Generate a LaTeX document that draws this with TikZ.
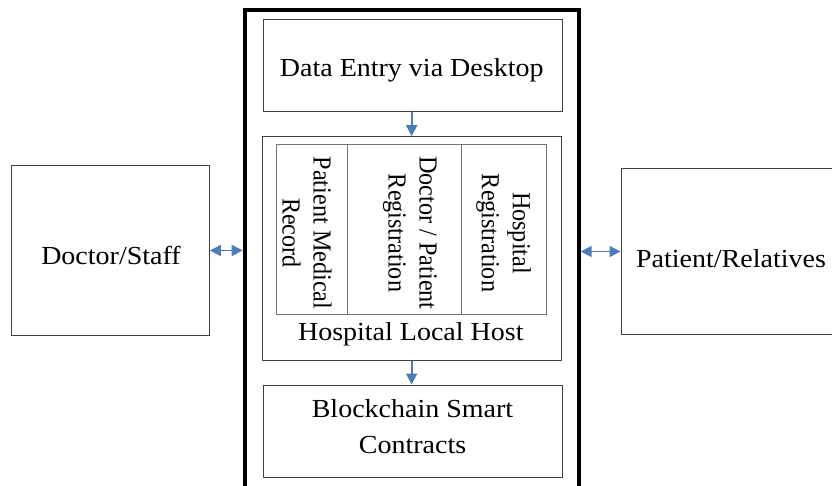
\documentclass[tikz,border=0pt]{standalone}
\usepackage{fontspec}
\setmainfont[FakeStretch=1.077]{Liberation Serif}
\newfontfamily\vfont[FakeStretch=0.93]{Liberation Serif}
\usetikzlibrary{arrows.meta}
\definecolor{arrblue}{HTML}{4A7EBB}
\begin{document}
\begin{tikzpicture}[x=1pt,y=-1pt,
  box/.style={draw=black!75, line width=1pt, inner sep=0pt},
  cell/.style={draw=black!55, line width=1pt, inner sep=0pt},
  txt/.style={anchor=base, inner sep=0pt, align=center, font=\fontsize{26}{36}\selectfont},
  vtxt/.style={rotate=-90, inner sep=0pt, align=center, font=\vfont\fontsize{26}{31}\selectfont},
  tip/.tip={Triangle[length=11pt,width=11pt]},
  arr/.style={draw=arrblue, line width=1.8pt, -tip},
  arrboth/.style={draw=arrblue, line width=1.8pt, tip-tip}]
\useasboundingbox (0,0) rectangle (832,486);
\clip (0,0) rectangle (832,486);

% outer frame (open at the bottom of the picture)
\node[draw=black, line width=4pt, inner sep=0pt, minimum width=334pt, minimum height=510pt] (outer) at (411.7,265.3) {};

% side actors
\node[box, minimum width=198.3pt, minimum height=169pt] (doc) at (110.2,250.5) {};
\node[txt] (doctxt) at (111,264.3) {Doctor/Staff};
\node[box, minimum width=221pt, minimum height=165pt] (pat) at (731.5,251.5) {};
\node[txt] (pattxt) at (731,267.7) {Patient/Relatives};

% data entry
\node[box, minimum width=299pt, minimum height=91.7pt] (data) at (412.8,65.2) {};
\node[txt] (datatxt) at (411.7,76.7) {Data Entry via Desktop};

% hospital local host
\node[box, minimum width=298.7pt, minimum height=223.3pt] (hlh) at (411.65,248.35) {};
\node[cell, minimum width=71pt, minimum height=170pt] (c1) at (312.2,229.3) {};
\node[cell, minimum width=113.3pt, minimum height=170pt] (c2) at (404.35,229.3) {};
\node[cell, minimum width=85.7pt, minimum height=170pt] (c3) at (503.85,229.3) {};
\node[vtxt] (t1) at (307,233) {Patient Medical\\Record};
\node[vtxt] (t2) at (410,233) {Doctor / Patient\\Registration};
\node[vtxt] (t3) at (503.5,233) {Hospital\\Registration};
\node[txt] (hlhtxt) at (410.8,340.7) {Hospital Local Host};

% blockchain
\node[box, minimum width=299pt, minimum height=92.3pt] (block) at (412.8,431.15) {};
\node[txt] (blocktxt) at (412.5,453.5) {Blockchain Smart\\Contracts};

% connectors
\draw[arr] (data.south -| hlh.north) -- (hlh.north);
\draw[arr] (hlh.south) -- (hlh.south |- block.north);
\draw[arrboth] (doc.east) -- (doc.east -| outer.west);
\draw[arrboth] (pat.west -| outer.east) -- (pat.west);
\end{tikzpicture}
\end{document}
